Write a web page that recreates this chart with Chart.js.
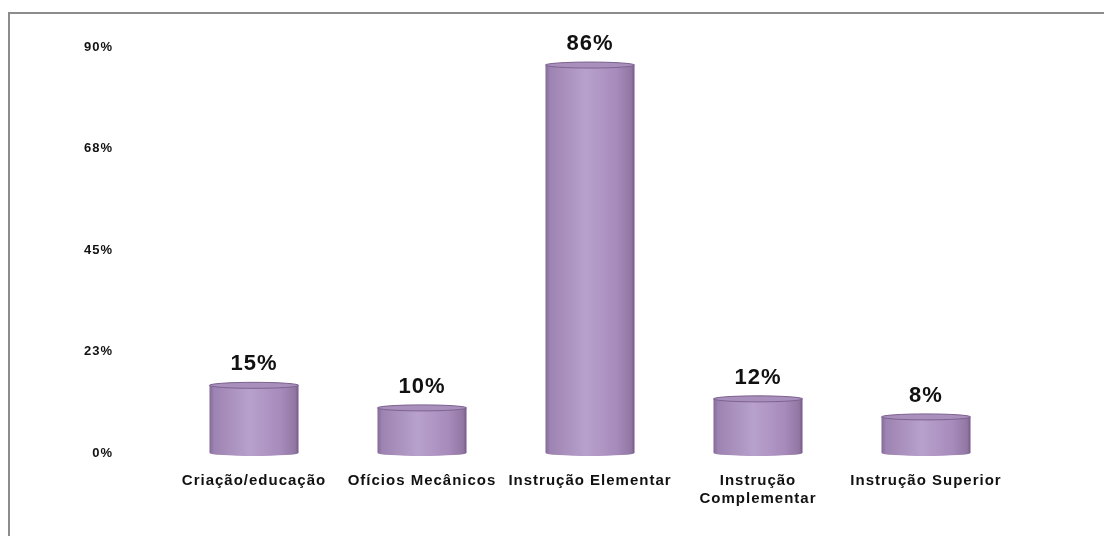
<!DOCTYPE html>
<html>
<head>
<meta charset="utf-8">
<script src="https://cdn.jsdelivr.net/npm/chart.js@4.4.1/dist/chart.umd.min.js"></script>
<style>
    html, body { margin: 0; padding: 0; background: #fff; }
    #wrap { position: relative; width: 1104px; height: 536px; overflow: hidden; }
    #frame {
        position: absolute; left: 8px; top: 12px; right: -4px; bottom: -4px;
        border-left: 2px solid #8c8c8c; border-top: 2px solid #8c8c8c;
    }
    #chart { position: absolute; left: 0; top: 0; }
</style>
</head>
<body>
<div id="wrap">
    <div id="frame"></div>
    <canvas id="chart" width="1104" height="536"></canvas>
</div>
<script>
// categories and shares (%)
const categories = [
    'Criação/educação',
    'Ofícios Mecânicos',
    'Instrução Elementar',
    ['Instrução', 'Complementar'],
    'Instrução Superior',
];
const shares = [15, 10, 86, 12, 8];
const yTicks = [0, 22.5, 45, 67.5, 90];

const FONT = "'Liberation Sans', Arial, sans-serif";

// slightly spaced-out lettering for every text on the canvas
const spacingPlugin = {
    id: 'spacing',
    beforeDraw(chart) { chart.ctx.letterSpacing = '1px'; },
};

// paints each bar as a shaded cylinder and writes its value above it
const cylinderPlugin = {
    id: 'cylinders',
    afterDatasetsDraw(chart) {
        const ctx = chart.ctx;
        const meta = chart.getDatasetMeta(0);
        meta.data.forEach((bar, i) => {
            const { x, y, base, width } = bar.getProps(['x', 'y', 'base', 'width'], true);
            const left = x - width / 2;
            const right = x + width / 2;
            const ry = 3;

            const grad = ctx.createLinearGradient(left, 0, right, 0);
            grad.addColorStop(0, '#86699a');
            grad.addColorStop(0.05, '#9d83b1');
            grad.addColorStop(0.45, '#b8a1cc');
            grad.addColorStop(0.8, '#a78bbb');
            grad.addColorStop(0.96, '#9277a4');
            grad.addColorStop(1, '#765b88');

            ctx.save();
            ctx.beginPath();
            ctx.moveTo(left, y);
            ctx.lineTo(left, base);
            ctx.ellipse(x, base, width / 2, ry, 0, Math.PI, 0, true);
            ctx.lineTo(right, y);
            ctx.ellipse(x, y, width / 2, ry, 0, 0, Math.PI, true);
            ctx.closePath();
            ctx.fillStyle = grad;
            ctx.fill();

            // top rim
            ctx.beginPath();
            ctx.ellipse(x, y, width / 2, ry, 0, 0, Math.PI * 2);
            ctx.fillStyle = '#a990bc';
            ctx.fill();
            ctx.strokeStyle = '#7d6490';
            ctx.lineWidth = 1;
            ctx.stroke();

            // value label
            ctx.fillStyle = '#111';
            ctx.font = 'bold 22px ' + FONT;
            ctx.textAlign = 'center';
            ctx.textBaseline = 'bottom';
            ctx.fillText(shares[i] + '%', x, y - 10);
            ctx.restore();
        });
    },
};

new Chart(document.getElementById('chart'), {
    type: 'bar',
    data: {
        labels: categories,
        datasets: [{
            data: shares,
            backgroundColor: 'rgba(0,0,0,0)',
            borderWidth: 0,
            categoryPercentage: 1,
            barPercentage: 0.53,
        }],
    },
    options: {
        responsive: false,
        animation: false,
        layout: { padding: { top: 47, right: 94, left: 0, bottom: 0 } },
        plugins: {
            legend: { display: false },
            tooltip: { enabled: false },
        },
        scales: {
            x: {
                afterFit: scale => { scale.height = 83; },
                grid: { display: false, drawTicks: false },
                border: { display: false },
                ticks: {
                    color: '#111',
                    padding: 19,
                    maxRotation: 0,
                    font: { family: FONT, size: 15, weight: 'bold' },
                },
            },
            y: {
                min: 0,
                max: 90,
                afterBuildTicks: scale => {
                    scale.ticks = yTicks.map(v => ({ value: v }));
                },
                afterFit: scale => {
                    scale.width = 170;
                    // the wide label gap is horizontal only
                    scale.paddingTop = 8;
                    scale.paddingBottom = 8;
                },
                grid: { display: false, drawTicks: false },
                border: { display: false },
                ticks: {
                    color: '#111',
                    padding: 57,
                    font: { family: FONT, size: 13, weight: 'bold' },
                    callback: v => Math.round(v) + '%',
                },
            },
        },
    },
    plugins: [spacingPlugin, cylinderPlugin],
});
</script>
</body>
</html>
